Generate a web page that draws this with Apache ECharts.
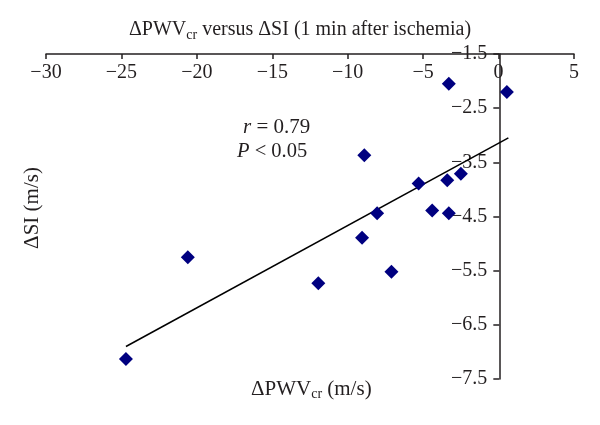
<!DOCTYPE html>
<html>
<head>
<meta charset="utf-8">
<script src="https://cdn.jsdelivr.net/npm/echarts@6/dist/echarts.min.js"></script>
<style>html,body{margin:0;padding:0;background:#fff;}#c{width:600px;height:425px;}</style>
</head>
<body>
<div id="c"></div>
<script>
// Data
var pwvValues = [-3.3, 0.55, -8.9, -5.3, -3.4, -2.5, -8.05, -4.4, -3.3, -9.05, -7.1, -11.95, -20.6, -24.7];
var siValues  = [-2.05, -2.2, -3.37, -3.89, -3.83, -3.71, -4.44, -4.39, -4.44, -4.89, -5.52, -5.73, -5.25, -7.13];
var trendX = [-24.7, 0.65];
var trendY = [-6.9, -3.05];
var xTicks = { min: -30, max: 5, step: 5 };
var yTicks = { min: -7.5, max: -1.5, step: 1 };

var FONT = 'Liberation Serif';
var TXT = '#231f20';
var GRID_LEFT = 46;

var points = pwvValues.map(function (v, i) { return [v, siValues[i]]; });
var trend = trendX.map(function (v, i) { return [v, trendY[i]]; });

function minus(v) { return String(v).replace('-', '\u2212'); }

var chart = echarts.init(document.getElementById('c'), null, { renderer: 'canvas' });
chart.setOption({
  backgroundColor: '#ffffff',
  animation: false,
  title: {
    text: '{a|\u0394PWV}{s|cr}{a| versus \u0394SI (1 min after ischemia)}',
    left: 'center',
    top: 13,
    textStyle: {
      fontWeight: 'normal',
      rich: {
        a: { fontFamily: FONT, fontSize: 20, color: TXT, fontWeight: 'normal' },
        s: { fontFamily: FONT, fontSize: 14, color: TXT, fontWeight: 'normal', padding: [10, 0, 0, 0] }
      }
    }
  },
  grid: { left: GRID_LEFT, right: 26, top: 54, bottom: 46, containLabel: false },
  xAxis: {
    type: 'value',
    position: 'top',
    min: xTicks.min, max: xTicks.max, interval: xTicks.step,
    axisLine: { onZero: false, lineStyle: { color: TXT, width: 1.5 } },
    axisTick: { show: true, inside: true, length: 5, lineStyle: { color: TXT, width: 1.5 } },
    axisLabel: { inside: true, margin: 9, fontFamily: FONT, fontSize: 20, color: TXT, formatter: minus },
    splitLine: { show: false }
  },
  yAxis: {
    type: 'value',
    position: 'left',
    offset: 0,
    min: yTicks.min, max: yTicks.max, interval: yTicks.step,
    axisLine: { onZero: false, lineStyle: { color: TXT, width: 1.5 } },
    axisTick: { show: true, inside: false, length: 6, lineStyle: { color: TXT, width: 1.5 } },
    axisLabel: { margin: 12, fontFamily: FONT, fontSize: 20, color: TXT, formatter: function (v) { return minus(v.toFixed(1)); } },
    splitLine: { show: false }
  },
  series: [
    {
      type: 'line',
      data: trend,
      symbol: 'none',
      lineStyle: { color: '#000000', width: 1.5 },
      z: 2
    },
    {
      type: 'scatter',
      data: points,
      symbol: 'diamond',
      symbolSize: 14,
      itemStyle: { color: '#000080', opacity: 1 },
      z: 3
    }
  ],
  graphic: [
    {
      type: 'text', left: 251, top: 379,
      style: {
        text: '{a|\u0394PWV}{s|cr}{a| (m/s)}',
        rich: {
          a: { fontFamily: FONT, fontSize: 21, fill: TXT },
          s: { fontFamily: FONT, fontSize: 14, fill: TXT, padding: [10, 0, 0, 0] }
        }
      }
    },
    {
      type: 'text', x: 32, y: 208, rotation: Math.PI / 2,
      style: { text: '\u0394SI (m/s)', fontFamily: FONT, fontSize: 21, fill: TXT, align: 'center', verticalAlign: 'middle' }
    },
    {
      type: 'text', x: 243, y: 127,
      style: {
        text: '{i|r}{a| = 0.79}',
        verticalAlign: 'middle',
        rich: {
          i: { fontFamily: FONT, fontSize: 21, fontStyle: 'italic', fill: TXT },
          a: { fontFamily: FONT, fontSize: 21, fill: TXT }
        }
      }
    },
    {
      type: 'text', x: 237, y: 152,
      style: {
        text: '{i|P}{a| < 0.05}',
        verticalAlign: 'middle',
        rich: {
          i: { fontFamily: FONT, fontSize: 20.5, fontStyle: 'italic', fill: TXT },
          a: { fontFamily: FONT, fontSize: 20.5, fill: TXT }
        }
      }
    }
  ]
});
// Move the y axis (line, ticks, labels) to cross the x axis at 0
var zeroPx = chart.convertToPixel({ xAxisIndex: 0 }, 0);
chart.setOption({ yAxis: { offset: GRID_LEFT - zeroPx } });
</script>
</body>
</html>
